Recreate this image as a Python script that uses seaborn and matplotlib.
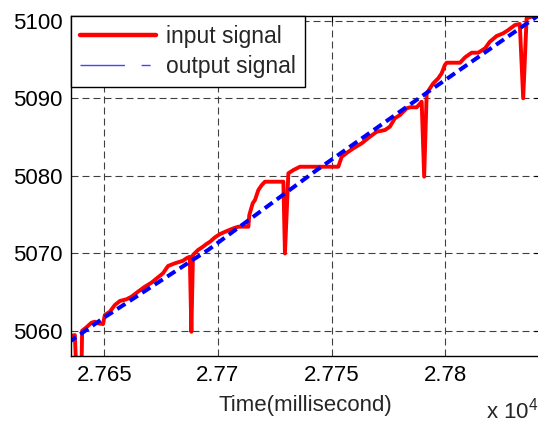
import numpy as np
import pandas as pd
import matplotlib
matplotlib.use("Agg")
import matplotlib.pyplot as plt
from matplotlib.ticker import FuncFormatter, FixedLocator
import seaborn as sns

# ---- data (time in ms, value) ----
input_time = [27634.0, 27637.0, 27638.0, 27639.75, 27640.2, 27642.1, 27644.3, 27645.8, 27647.2,
              27649.4, 27650.2, 27652.4, 27654.6, 27656.8, 27659.7, 27661.9, 27664.8, 27667.8,
              27670.7, 27673.6, 27675.8, 27678.0, 27681.0, 27684.6, 27686.1, 27687.6, 27688.3,
              27689.0, 27691.2, 27693.4, 27694.9, 27696.5, 27698.7, 27700.9, 27703.9, 27706.8,
              27709.0, 27713.4, 27713.8, 27715.3, 27716.3, 27717.8, 27719.3, 27720.7, 27728.8,
              27729.5, 27731.0, 27733.2, 27736.1, 27753.0, 27754.5, 27757.4, 27759.6, 27763.3,
              27766.9, 27769.9, 27773.5, 27775.7, 27777.9, 27780.1, 27783.1, 27784.6, 27787.5,
              27789.7, 27790.8, 27791.9, 27794.8, 27797.0, 27798.5, 27799.9, 27800.7, 27806.6,
              27808.8, 27811.7, 27814.6, 27817.6, 27819.7, 27822.7, 27825.6, 27827.8, 27830.8,
              27832.9, 27834.4, 27835.9, 27840.3, 27842.0]
input_value = [5059.27, 5059.48, 5052.0, 5052.0, 5060.04, 5060.48, 5061.07, 5061.2, 5060.99,
               5060.9, 5062.06, 5062.49, 5063.35, 5063.87, 5064.09, 5064.42, 5065.07, 5065.71,
               5066.23, 5066.92, 5067.44, 5068.38, 5068.73, 5069.06, 5069.37, 5069.58, 5059.9,
               5069.8, 5070.44, 5070.87, 5071.21, 5071.51, 5072.08, 5072.5, 5072.89, 5073.24,
               5073.45, 5073.45, 5074.95, 5076.46, 5076.89, 5078.18, 5078.82, 5079.25, 5079.25,
               5070.0, 5080.33, 5080.75, 5081.18, 5081.18, 5082.47, 5083.11, 5083.55, 5084.2,
               5085.05, 5085.69, 5085.91, 5086.34, 5087.42, 5087.84, 5088.71, 5088.84, 5088.84,
               5089.56, 5079.9, 5090.64, 5091.93, 5092.58, 5093.22, 5094.29, 5094.59, 5094.59,
               5095.28, 5095.88, 5095.88, 5096.44, 5097.29, 5098.03, 5098.38, 5098.8, 5099.45,
               5099.58, 5090.0, 5100.31, 5100.74, 5100.9]

output_time = [27634.0, 27649.9, 27695.6, 27743.5, 27792.6, 27840.3, 27842.0]
output_value = [5058.49, 5061.74, 5070.44, 5080.75, 5090.85, 5100.52, 5100.85]

x_ticks = [27650, 27700, 27750, 27800]
y_ticks = [5060, 5070, 5080, 5090, 5100]
series_labels = ["input signal", "output signal"]
x_label = "Time(millisecond)"

# ---- style ----
sns.set_style("white")
plt.rcParams["font.family"] = ["Liberation Sans", "DejaVu Sans"]
plt.rcParams["mathtext.fontset"] = "custom"
plt.rcParams["mathtext.rm"] = "Liberation Sans"

FS = 16

fig = plt.figure(figsize=(5.38, 4.25), dpi=100)
ax = fig.add_axes([71 / 538, (425 - 355.7) / 425, (540 - 71) / 538, 340 / 425])

df_in = pd.DataFrame({"t": input_time, "v": input_value})
df_out = pd.DataFrame({"t": output_time, "v": output_value})

sns.lineplot(data=df_in, x="t", y="v", ax=ax, color="#ff0000", linewidth=2.8,
             sort=False, estimator=None, label=series_labels[0])
sns.lineplot(data=df_out, x="t", y="v", ax=ax, color="#0000ff", linewidth=2.9,
             sort=False, estimator=None, label=series_labels[1])
ax.lines[1].set_dashes([2.4, 1.3])
ax.lines[0].set_solid_joinstyle("round")

ax.set_xlim(27635.3, 27841.8)
ax.set_ylim(5056.82, 5100.65)
ax.xaxis.set_major_locator(FixedLocator(x_ticks))
ax.yaxis.set_major_locator(FixedLocator(y_ticks))
ax.xaxis.set_major_formatter(FuncFormatter(lambda v, p: f"{v / 1e4:g}"))
ax.yaxis.set_major_formatter(FuncFormatter(lambda v, p: f"{v:g}"))
ax.tick_params(axis="both", direction="in", length=4, width=0.8, labelsize=FS,
               colors="black", top=True, right=True)
ax.tick_params(axis="x", pad=7)
ax.tick_params(axis="y", pad=6)

ax.grid(True, color="0.25", linestyle=(0, (6.3, 3.6)), linewidth=0.8)
ax.set_axisbelow(True)
for s in ax.spines.values():
    s.set_color("black")
    s.set_linewidth(1.0)

ax.set_xlabel(x_label, fontsize=FS, labelpad=6)
ax.set_ylabel("")

leg = ax.legend(loc="upper left", bbox_to_anchor=(0, 1), borderaxespad=0, fontsize=16.5,
                frameon=True, fancybox=False, framealpha=1, edgecolor="black",
                handlelength=3.3, handletextpad=0.45, labelspacing=0.3, borderpad=0.4)
leg.get_frame().set_linewidth(1.0)
hl = leg.get_lines()
hl[0].set_linewidth(3.2)
hl[1].set_linewidth(1.0)
hl[1].set_color("#4444ff")
hl[1].set_dashes([32, 12, 6.5, 100])

fig.text(486 / 538, 1 / 425, r"x 10$^{4}$", fontsize=FS, ha="left", va="bottom")

fig.savefig("out.png", dpi=100)
